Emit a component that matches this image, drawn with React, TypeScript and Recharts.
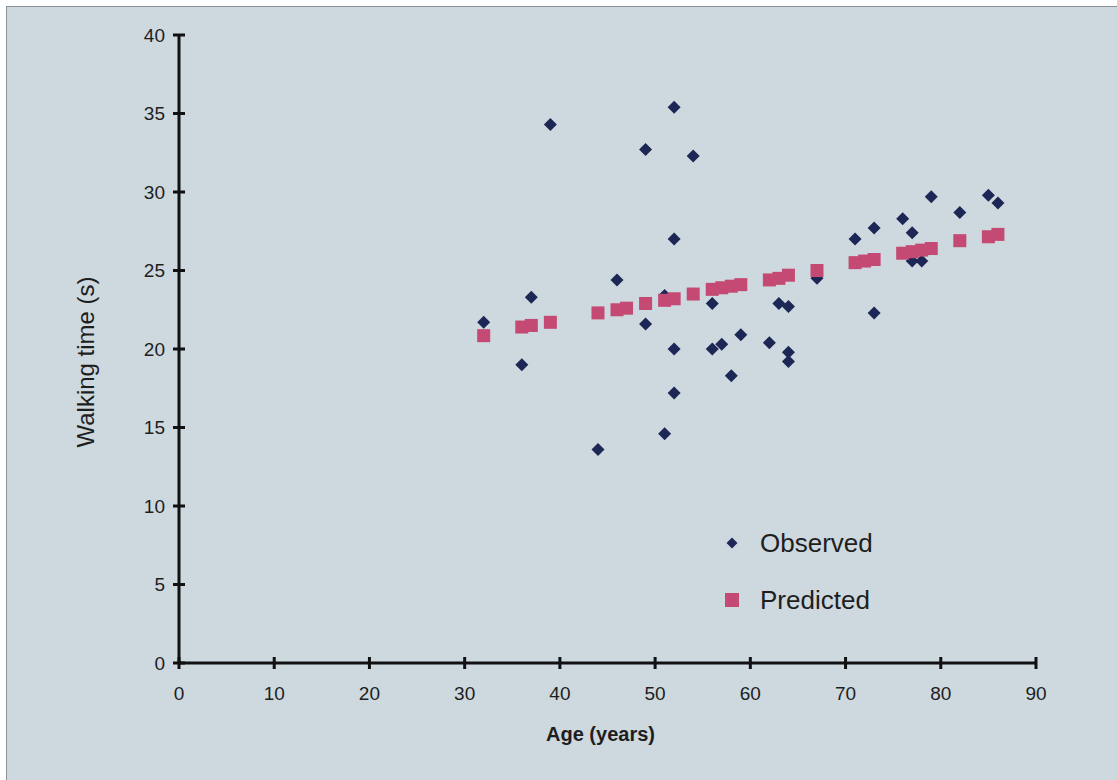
import React from "react";
import { ScatterChart, Scatter, XAxis, YAxis, Legend } from "recharts";

// observed walking times
const observedAge = [32, 36, 37, 39, 44, 46, 49, 49, 51, 51, 52, 52, 52, 52, 54, 56, 56, 57, 58, 59, 62, 63, 64, 64, 64, 67, 71, 73, 73, 76, 77, 77, 78, 79, 82, 85, 86];
const observedTime = [21.7, 19.0, 23.3, 34.3, 13.6, 24.4, 32.7, 21.6, 14.6, 23.4, 35.4, 27.0, 20.0, 17.2, 32.3, 22.9, 20.0, 20.3, 18.3, 20.9, 20.4, 22.9, 22.7, 19.8, 19.2, 24.5, 27.0, 27.7, 22.3, 28.3, 27.4, 25.6, 25.6, 29.7, 28.7, 29.8, 29.3];

// model predictions
const predictedAge = [32, 36, 37, 39, 44, 46, 47, 49, 51, 52, 54, 56, 57, 58, 59, 62, 63, 64, 67, 71, 72, 73, 76, 77, 78, 79, 82, 85, 86];
const predictedTime = [20.85, 21.4, 21.5, 21.7, 22.3, 22.5, 22.6, 22.9, 23.1, 23.2, 23.5, 23.8, 23.9, 24.0, 24.1, 24.4, 24.5, 24.7, 25.0, 25.5, 25.6, 25.7, 26.1, 26.2, 26.3, 26.4, 26.9, 27.15, 27.3];

const xTicks = [0, 10, 20, 30, 40, 50, 60, 70, 80, 90];
const yTicks = [0, 5, 10, 15, 20, 25, 30, 35, 40];

const NAVY = "#1c2755";
const PINK = "#c44a74";
const INK = "#1e1e1e";
const FONT = "'Liberation Sans', Arial, sans-serif";

const observed = observedAge.map((age, i) => ({ age, time: observedTime[i] }));
const predicted = predictedAge.map((age, i) => ({ age, time: predictedTime[i] }));

const Diamond = (props: any) => {
  const { cx, cy } = props;
  const r = 6.5;
  return <polygon points={`${cx},${cy - r} ${cx + r},${cy} ${cx},${cy + r} ${cx - r},${cy}`} fill={NAVY} />;
};

const Square = (props: any) => {
  const { cx, cy } = props;
  return <rect x={cx - 6.5} y={cy - 6.5} width={13} height={13} fill={PINK} />;
};

const XTick = (props: any) => {
  const { x, y, payload } = props;
  const axisY = y - 24;
  return (
    <g>
      <line x1={x} x2={x} y1={axisY - 6} y2={axisY + 6} stroke="#111" strokeWidth={3} />
      <text x={x} y={y} dy="0.71em" textAnchor="middle" fontSize={19} fontFamily={FONT} fill={INK}>
        {payload.value}
      </text>
    </g>
  );
};

const YTick = (props: any) => {
  const { x, y, payload } = props;
  const axisX = x + 14;
  return (
    <g>
      <line x1={axisX - 6} x2={axisX + 6} y1={y} y2={y} stroke="#111" strokeWidth={3} />
      <text x={x} y={y} dy="0.355em" textAnchor="end" fontSize={19} fontFamily={FONT} fill={INK}>
        {payload.value}
      </text>
    </g>
  );
};

const XLabel = (props: any) => {
  const { viewBox } = props;
  return (
    <text x={viewBox.x + viewBox.width / 2 - 7} y={viewBox.y + 78} textAnchor="middle" fontSize={20} fontWeight="bold" fontFamily={FONT} fill={INK}>
      Age (years)
    </text>
  );
};

const YLabel = (props: any) => {
  const { viewBox } = props;
  const cx = 78;
  const cy = viewBox.y + viewBox.height / 2 + 13;
  return (
    <text x={cx} y={cy} transform={`rotate(-90 ${cx} ${cy})`} textAnchor="middle" dominantBaseline="central" fontSize={24} fontFamily={FONT} fill={INK}>
      Walking time (s)
    </text>
  );
};

const LegendBox = () => (
  <svg width={220} height={120} style={{ display: "block" }}>
    <polygon points="25,30.5 30.5,36 25,41.5 19.5,36" fill={NAVY} />
    <text x={53} y={36} dy="0.355em" fontSize={26} fontFamily={FONT} fill={INK}>
      Observed
    </text>
    <rect x={18} y={86} width={14} height={14} fill={PINK} />
    <text x={53} y={93} dy="0.355em" fontSize={26} fontFamily={FONT} fill={INK}>
      Predicted
    </text>
  </svg>
);

const App = () => {
  return (
    <div
      style={{
        position: "fixed",
        left: 6,
        top: 6,
        width: 1111,
        height: 774,
        boxSizing: "border-box",
        borderLeft: "1px solid #8c9298",
        borderTop: "1px solid #8c9298",
        background: "#cdd8df",
      }}
    >
      <ScatterChart width={1110} height={773} margin={{ top: 28, right: 81, bottom: 57, left: 0 }}>
        <XAxis
          type="number"
          dataKey="age"
          domain={[0, 90]}
          ticks={xTicks}
          allowDataOverflow
          tickSize={0}
          tickMargin={24}
          tickLine={false}
          axisLine={{ stroke: "#111", strokeWidth: 3 }}
          tick={<XTick />}
          height={60}
          label={XLabel}
        />
        <YAxis
          type="number"
          dataKey="time"
          domain={[0, 40]}
          ticks={yTicks}
          allowDataOverflow
          tickSize={0}
          tickMargin={14}
          tickLine={false}
          axisLine={{ stroke: "#111", strokeWidth: 3 }}
          tick={<YTick />}
          width={172}
          label={YLabel}
        />
        <Legend
          layout="horizontal"
          verticalAlign="middle"
          align="center"
          content={LegendBox}
          wrapperStyle={{ position: "absolute", left: 700, top: 500, width: 220, height: 120 }}
        />
        <Scatter name="Observed" data={observed} shape={Diamond} isAnimationActive={false} />
        <Scatter name="Predicted" data={predicted} shape={Square} isAnimationActive={false} />
      </ScatterChart>
    </div>
  );
};

export default App;
